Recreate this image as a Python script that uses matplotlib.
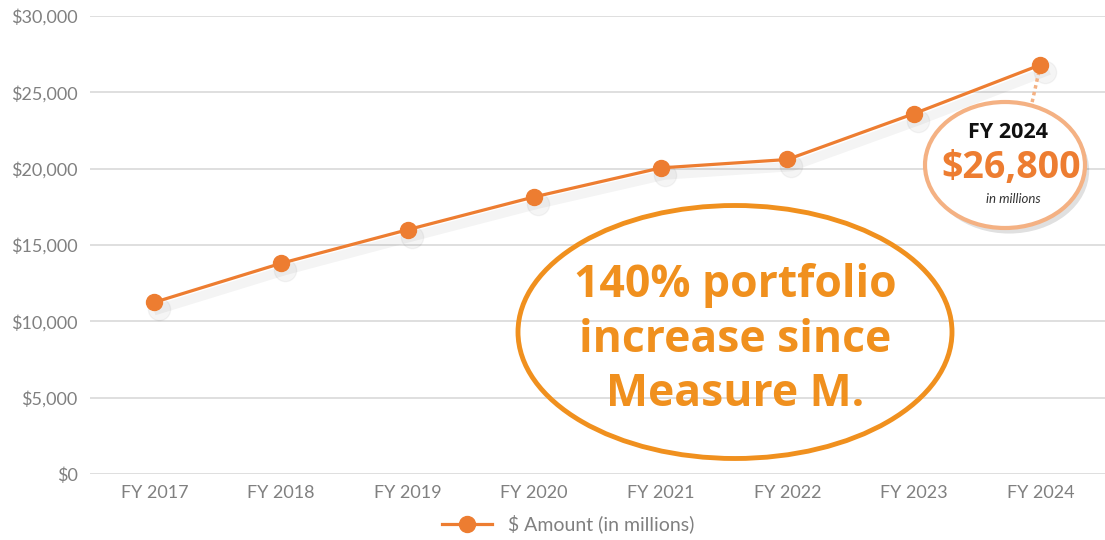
import matplotlib
matplotlib.use("Agg")
import matplotlib.pyplot as plt
import matplotlib.patheffects as pe
import matplotlib.transforms as mtrans
from matplotlib.patches import Ellipse
from matplotlib.ticker import FuncFormatter

years = ["FY 2017", "FY 2018", "FY 2019", "FY 2020", "FY 2021", "FY 2022", "FY 2023", "FY 2024"]
amounts = [11250, 13800, 16000, 18150, 20050, 20600, 23600, 26800]
yticks = [0, 5000, 10000, 15000, 20000, 25000, 30000]
series_label = "$ Amount (in millions)"

plt.rcParams['font.family'] = ['Lato', 'DejaVu Sans']

ORANGE = "#ED7D31"
GRAY = "#808080"

fig = plt.figure(figsize=(11.05, 5.4), dpi=100)
ax = fig.add_axes([0.0814, 0.1222, 0.9186, 0.8482])

x = list(range(len(years)))
# soft shadow under the line
shift = ax.transData + mtrans.ScaledTranslation(3 / 72, -5 / 72, fig.dpi_scale_trans)
ax.plot(x, amounts, color="k", alpha=0.045, lw=7, zorder=3, transform=shift)
ax.plot(x, amounts, color="k", alpha=0.04, lw=0, marker="o", ms=16, zorder=3, transform=shift)
line, = ax.plot(x, amounts, color=ORANGE, lw=2.3, marker="o", ms=11.5, zorder=5, label=series_label)

ax.set_xlim(-0.51, 7.51)
ax.set_ylim(0, 30000)
ax.set_yticks(yticks)
ax.yaxis.set_major_formatter(FuncFormatter(lambda v, p: f"${v:,.0f}"))
ax.set_xticks(x)
ax.set_xticklabels(years)
ax.grid(axis="y", color="#d9d9d9", lw=1.2)
ax.set_axisbelow(True)
for s in ax.spines.values():
    s.set_visible(False)
ax.tick_params(axis="both", length=0, colors=GRAY, labelsize=13)
ax.tick_params(axis="y", pad=9)
ax.tick_params(axis="x", pad=8)

# big ellipse annotation
big = Ellipse((735, 540 - 332), 434, 253, transform=None, fill=False, edgecolor="#F0901E", lw=3.5, zorder=6)
fig.patches.append(big)
fig.text(735 / 1105, 1 - 340 / 540, "140% portfolio\nincrease since\nMeasure M.", ha="center", va="center",
         color="#F0901E", fontsize=32, fontweight="bold", linespacing=1.28, family=["Open Sans", "DejaVu Sans"])

# callout
ax.plot([7, 6.93], [26800, 24200], color="#F4B183", lw=2.5, ls=(0, (1, 1)), zorder=4)
call = Ellipse((1005, 540 - 165), 160, 126, transform=None, facecolor="white", edgecolor="#F4B183", lw=3, zorder=7,
               path_effects=[pe.SimplePatchShadow(offset=(3, -4), shadow_rgbFace="k", alpha=0.12), pe.Normal()])
fig.patches.append(call)
fig.text(1008 / 1105, 1 - 133 / 540, "FY 2024", ha="center", va="center", fontsize=15.5, fontweight="bold",
         color="#111111", family=["Open Sans", "DejaVu Sans"], zorder=8)
fig.text(1011 / 1105, 1 - 168 / 540, "$26,800", ha="center", va="center", fontsize=27, fontweight="bold",
         color=ORANGE, family=["Open Sans", "DejaVu Sans"], zorder=8)
fig.text(1013 / 1105, 1 - 199 / 540, "in millions", ha="center", va="center", fontsize=9.5, style="italic",
         color="#333333", zorder=8)

leg = fig.legend(handles=[line], loc="center", bbox_to_anchor=(568 / 1105, 1 - 524 / 540), frameon=False,
                 fontsize=14, handlelength=2.6, labelcolor=GRAY)

fig.savefig("out.png", dpi=100)
